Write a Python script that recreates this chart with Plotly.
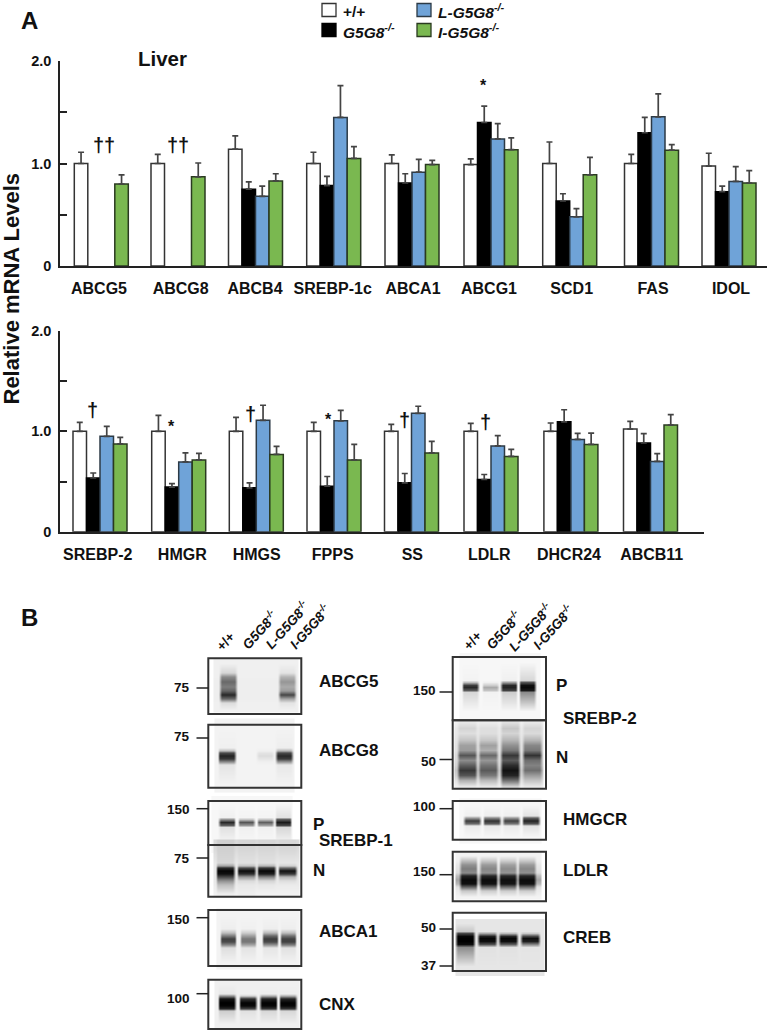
import plotly.graph_objects as go

W, H = 768, 1032
FONT = "Liberation Sans"

# ---------- Panel A data ----------
GENES_TOP = ["ABCG5", "ABCG8", "ABCB4", "SREBP-1c", "ABCA1", "ABCG1", "SCD1", "FAS", "IDOL"]
WT_TOP = [1.0, 1.0, 1.14, 1.0, 1.0, 0.99, 1.0, 1.0, 0.975]
KO_TOP = [None, None, 0.75, 0.785, 0.81, 1.40, 0.635, 1.30, 0.725]
LKO_TOP = [None, None, 0.68, 1.45, 0.915, 1.24, 0.48, 1.455, 0.825]
IKO_TOP = [0.80, 0.87, 0.83, 1.05, 0.99, 1.135, 0.89, 1.13, 0.81]
WT_TOP_ERR = [0.11, 0.09, 0.13, 0.11, 0.085, 0.055, 0.21, 0.09, 0.125]
KO_TOP_ERR = [None, None, 0.07, 0.09, 0.09, 0.16, 0.07, 0.15, 0.055]
LKO_TOP_ERR = [None, None, 0.10, 0.31, 0.125, 0.15, 0.08, 0.225, 0.145]
IKO_TOP_ERR = [0.09, 0.135, 0.07, 0.115, 0.04, 0.115, 0.17, 0.055, 0.12]

GENES_BOT = ["SREBP-2", "HMGR", "HMGS", "FPPS", "SS", "LDLR", "DHCR24", "ABCB11"]
WT_BOT = [1.0, 1.0, 1.0, 1.0, 1.0, 1.0, 1.0, 1.023]
KO_BOT = [0.535, 0.445, 0.437, 0.454, 0.487, 0.52, 1.095, 0.884]
LKO_BOT = [0.95, 0.695, 1.11, 1.105, 1.18, 0.855, 0.92, 0.70]
IKO_BOT = [0.875, 0.715, 0.77, 0.715, 0.785, 0.75, 0.87, 1.063]
WT_BOT_ERR = [0.09, 0.16, 0.14, 0.09, 0.07, 0.08, 0.083, 0.077]
KO_BOT_ERR = [0.05, 0.035, 0.05, 0.096, 0.093, 0.05, 0.12, 0.093]
LKO_BOT_ERR = [0.10, 0.09, 0.15, 0.105, 0.07, 0.102, 0.06, 0.078]
IKO_BOT_ERR = [0.065, 0.065, 0.08, 0.155, 0.115, 0.07, 0.113, 0.103]

SERIES_NAMES = ["+/+", "G5G8<sup>-/-</sup>", "L-G5G8<sup>-/-</sup>", "I-G5G8<sup>-/-</sup>"]
SERIES_FILL = ["#ffffff", "#000000", "#6fa3d8", "#7ab850"]
SERIES_EDGE = ["#333333", "#000000", "#2c3a46", "#2a3a20"]

# horizontal layout of the bar groups, in page pixels
GROUP_X_TOP = [101.3, 178, 255.5, 333.7, 412, 491, 569.7, 651.5, 729]
LABEL_X_TOP = [99, 180.7, 255, 332.7, 413, 489, 571.7, 653, 731]
GROUP_X_BOT = [100, 178.7, 256.3, 334, 411.5, 491, 570.9, 650.5]
LABEL_X_BOT = [97.7, 182.3, 256.7, 332.7, 412.3, 489.3, 569, 651.7]
BAR_W = 13.5

fig = go.Figure()


def add_bars(xaxis, yaxis, centres, vals, errs):
    for i, (v, e) in enumerate(zip(vals, errs)):
        fig.add_trace(go.Bar(
            x=centres, y=v, width=BAR_W, offset=-2 * BAR_W + i * BAR_W,
            name=SERIES_NAMES[i], showlegend=False,
            marker=dict(color=SERIES_FILL[i], line=dict(color=SERIES_EDGE[i], width=1.5)),
            error_y=dict(type="data", symmetric=False, array=e, arrayminus=[0] * len(e),
                         color="#444444", thickness=1.7, width=3),
            xaxis=xaxis, yaxis=yaxis))


add_bars("x", "y", GROUP_X_TOP, [WT_TOP, KO_TOP, LKO_TOP, IKO_TOP],
         [WT_TOP_ERR, KO_TOP_ERR, LKO_TOP_ERR, IKO_TOP_ERR])
add_bars("x2", "y2", GROUP_X_BOT, [WT_BOT, KO_BOT, LKO_BOT, IKO_BOT],
         [WT_BOT_ERR, KO_BOT_ERR, LKO_BOT_ERR, IKO_BOT_ERR])

# ---------- Panel B data: grey level per row; columns are gel background, then lanes 1-4 ----------
ABCG5_Y = [663, 672, 676, 681, 686, 690, 694, 698, 702, 709]
ABCG5_GREY = [[240, 240, 240, 240, 240], [240, 215, 240, 240, 228], [240, 140, 240, 240, 180],
              [238, 105, 238, 238, 150], [238, 125, 238, 238, 170], [238, 100, 238, 238, 155],
              [238, 40, 238, 238, 70], [238, 105, 238, 238, 165], [240, 220, 240, 240, 228],
              [240, 240, 240, 240, 240]]
ABCG8_Y = [728, 747, 750, 752, 755, 758, 761, 764, 783]
ABCG8_GREY = [[243, 243, 243, 243, 243], [243, 240, 243, 243, 238], [243, 190, 243, 240, 180],
              [243, 75, 243, 228, 75], [243, 35, 243, 220, 40], [243, 55, 243, 230, 60],
              [243, 140, 243, 240, 150], [243, 228, 243, 243, 232], [243, 243, 243, 243, 243]]
SREBP1P_Y = [803, 817, 819, 822, 825, 827, 844]
SREBP1P_GREY = [[247, 247, 247, 247, 247], [247, 240, 244, 244, 225], [247, 150, 200, 200, 95],
                [247, 40, 85, 95, 25], [247, 95, 150, 160, 70], [247, 225, 240, 240, 215],
                [247, 247, 247, 247, 247]]
SREBP1N_Y = [847, 862, 865, 867, 870, 873, 876, 880, 884, 893]
SREBP1N_GREY = [[218, 208, 214, 214, 214], [232, 215, 225, 225, 230], [232, 165, 195, 185, 210],
                [232, 45, 80, 60, 110], [232, 5, 12, 8, 18], [232, 15, 45, 30, 55],
                [232, 70, 150, 130, 180], [232, 145, 218, 212, 222], [235, 190, 232, 232, 235],
                [242, 238, 238, 242, 242]]
ABCA1_Y = [915, 928, 932, 935, 938, 941, 944, 947, 962]
ABCA1_GREY = [[243, 243, 243, 243, 243], [243, 238, 240, 238, 238], [243, 190, 205, 185, 190],
              [243, 125, 160, 105, 115], [243, 65, 120, 60, 65], [243, 75, 120, 75, 65],
              [243, 135, 165, 145, 125], [243, 222, 228, 230, 225], [243, 243, 243, 243, 243]]
CNX_Y = [984, 993, 995, 998, 1002, 1005, 1008, 1010, 1023]
CNX_GREY = [[240, 240, 240, 240, 240], [240, 232, 240, 238, 238], [240, 150, 215, 180, 180],
            [240, 20, 50, 35, 35], [240, 0, 5, 3, 3], [240, 5, 10, 8, 8],
            [240, 40, 70, 55, 55], [240, 205, 225, 215, 215], [240, 240, 240, 240, 240]]
SREBP2P_Y = [662, 680, 682, 685, 687, 690, 692, 711]
SREBP2P_GREY = [[247, 247, 247, 247, 247], [247, 243, 247, 240, 215], [247, 190, 240, 160, 85],
                [247, 60, 205, 40, 15], [247, 40, 170, 35, 10], [247, 90, 195, 65, 25],
                [247, 215, 242, 205, 140], [247, 247, 247, 247, 247]]
SREBP2N_Y = [722, 728, 733, 740, 745, 750, 755, 760, 765, 770, 775, 780, 786]
SREBP2N_GREY = [[240, 232, 236, 225, 232], [232, 212, 222, 198, 212], [232, 222, 222, 212, 218],
                [228, 195, 198, 180, 180], [225, 160, 160, 145, 135], [225, 155, 175, 120, 120],
                [218, 85, 105, 55, 50], [218, 140, 150, 90, 110], [212, 95, 115, 45, 130],
                [198, 55, 90, 18, 110], [208, 85, 120, 35, 155], [225, 175, 185, 110, 195],
                [240, 232, 232, 210, 232]]
HMGCR_Y = [804, 815, 817, 820, 823, 825, 837]
HMGCR_GREY = [[247, 247, 247, 247, 247], [247, 240, 238, 240, 228], [247, 160, 140, 155, 100],
              [247, 60, 50, 65, 35], [247, 110, 95, 120, 85], [247, 235, 232, 235, 225],
              [247, 247, 247, 247, 247]]
LDLR_Y = [855, 860, 864, 868, 872, 875, 879, 883, 886, 890, 896]
LDLR_GREY = [[243, 243, 243, 243, 243], [240, 190, 200, 205, 200], [232, 145, 155, 160, 155],
             [228, 125, 135, 140, 135], [222, 140, 145, 150, 145], [190, 35, 40, 40, 40],
             [165, 10, 12, 15, 12], [185, 15, 18, 20, 18], [225, 95, 100, 105, 105],
             [235, 200, 205, 205, 205], [243, 243, 243, 243, 243]]
CREB_Y = [923, 931, 933, 936, 938, 941, 944, 947, 966]
CREB_GREY = [[230, 230, 230, 230, 230], [230, 200, 230, 230, 230], [230, 70, 165, 185, 200],
             [230, 5, 30, 35, 70], [230, 0, 5, 5, 15], [230, 0, 15, 15, 30],
             [230, 12, 80, 90, 130], [230, 140, 225, 225, 228], [230, 230, 230, 230, 230]]

# (gel x0, gel x1, lane centres, lane half width, rows, grey)
BLOTS = [
    (214, 298, [228, 248, 267, 287], 9.5, ABCG5_Y, ABCG5_GREY),
    (215, 294, [226.7, 246, 265, 284], 9.5, ABCG8_Y, ABCG8_GREY),
    (212, 292, [226.7, 246, 265, 283.3], 9, SREBP1P_Y, SREBP1P_GREY),
    (214, 299, [225, 246, 266, 287], 10, SREBP1N_Y, SREBP1N_GREY),
    (217, 299, [228, 248, 270, 288], 8.9, ABCA1_Y, ABCA1_GREY),
    (215, 299, [226.7, 247.7, 268.3, 287.7], 9.6, CNX_Y, CNX_GREY),
    (460, 540, [470, 490, 508.7, 527.3], 9, SREBP2P_Y, SREBP2P_GREY),
    (455, 543, [466.7, 488.3, 510, 531.7], 10.5, SREBP2N_Y, SREBP2N_GREY),
    (460, 541, [472, 491.7, 511, 530.7], 9.5, HMGCR_Y, HMGCR_GREY),
    (456, 541, [468.3, 488.3, 507.7, 526.7], 9.5, LDLR_Y, LDLR_GREY),
    (456, 544, [465, 486.7, 508.3, 530], 10.5, CREB_Y, CREB_GREY),
]

for x0, x1, lanes, half, rows, grey in BLOTS:
    xs = [x0, x0 + 1]
    for c in lanes:
        xs += [c - half, c - half * 0.72, c + half * 0.72, c + half]
    xs += [x1 - 1, x1]
    z = []
    for r in grey:
        bg = r[0]
        row = [bg, bg]
        for v in r[1:]:
            row += [bg, v, v, bg]
        row += [bg, bg]
        z.append(row)
    fig.add_trace(go.Heatmap(x=xs, y=rows, z=z, zmin=0, zmax=255, zsmooth="best",
                             colorscale=[[0, "#000000"], [1, "#ffffff"]], showscale=False,
                             hoverinfo="skip", xaxis="x3", yaxis="y3"))

FRAMES = [
    (208.3, 301.3, 658.3, 714), (208.3, 301.3, 724.7, 787.7), (208.3, 301.3, 801, 845),
    (208.3, 301.3, 845, 896.7), (208.3, 301.3, 910, 966), (208.3, 301.3, 979.7, 1029),
    (452.7, 546, 657, 720.3), (452.7, 546, 720.3, 788.7), (452.7, 546, 801, 839.7),
    (452.7, 546, 851.7, 901.3), (452.7, 546, 912.7, 971),
]
MW_LEFT = [("75", 688, 687.7), ("75", 738, 736.7), ("150", 808.7, 809), ("75", 858, 858),
           ("150", 917.7, 919), ("100", 993.7, 998)]
MW_RIGHT = [("150", 692, 690.7), ("50", 759.5, 761), ("100", 808.7, 806), ("150", 874.7, 871.7),
            ("50", 929, 927.7), ("37", 966, 965.7)]
BLOT_NAMES = [("ABCG5", 318, 681), ("ABCG8", 318, 750), ("P", 312, 824), ("SREBP-1", 318, 840),
              ("N", 312, 870), ("ABCA1", 318, 931), ("CNX", 318, 1004),
              ("P", 555, 685), ("SREBP-2", 561.7, 718), ("N", 555, 757.7), ("HMGCR", 562, 819),
              ("LDLR", 562, 870), ("CREB", 562, 937)]
LANE_LABELS = ["+/+", "G5G8<sup>-/-</sup>", "L-G5G8<sup>-/-</sup>", "I-G5G8<sup>-/-</sup>"]
LANE_POS_LEFT = [(225.7, 641.7), (259, 630), (286.7, 625), (309, 626.7)]
LANE_POS_RIGHT = [(473, 640.7), (503.3, 630), (530, 626.7), (552.7, 626.7)]
DAGGERS = [("††", 104, 145), ("††", 178.3, 145), ("†", 92.7, 410), ("†", 250, 414),
           ("†", 404.3, 420), ("†", 485.7, 422.3)]
STARS = [(483.7, 85), (171.3, 426), (328, 419)]
LEGEND_POS = [(322, 10), (322, 30), (417, 10), (417, 30)]

ann = []
shapes = []


def text(t, x, y, size, anchor="left", angle=0, italic=False, bold=True, yanchor="middle", color="#111111"):
    ann.append(dict(text=t, x=x / W, y=1 - y / H, xref="paper", yref="paper", xanchor=anchor,
                    yanchor=yanchor, showarrow=False, textangle=angle, borderpad=0,
                    font=dict(family=FONT, size=size, color=color,
                              weight="bold" if bold else "normal",
                              style="italic" if italic else "normal")))


def rect(x0, x1, y0, y1, fill, line, width):
    shapes.append(dict(type="rect", xref="paper", yref="paper", x0=x0 / W, x1=x1 / W,
                       y0=1 - y0 / H, y1=1 - y1 / H, fillcolor=fill,
                       line=dict(color=line, width=width)))


def hline(x0, x1, y, width=1.5):
    shapes.append(dict(type="line", xref="paper", yref="paper", x0=x0 / W, x1=x1 / W,
                       y0=1 - y / H, y1=1 - y / H, line=dict(color="#222222", width=width)))


text("A", 20, 20, 24)
text("B", 20, 617, 24)
text("Liver", 137, 59, 20.5)
text("Relative mRNA Levels", 10.5, 289, 22, anchor="center", angle=-90)
for t, x, y in DAGGERS:
    text(t, x, y, 20, anchor="center")
for x, y in STARS:
    text("*", x, y, 16, anchor="center")
for i, (x, y) in enumerate(LEGEND_POS):
    rect(x, x + 14, y - 6.5, y + 6.5, SERIES_FILL[i], SERIES_EDGE[i], 1.3)
    text(SERIES_NAMES[i], x + 20, y + 1, 15.5, italic=i > 0)
for x0, x1, y0, y1 in FRAMES:
    rect(x0, x1, y0, y1, "rgba(0,0,0,0)", "#333333", 2)
for label, tick_y, y in MW_LEFT:
    hline(196.5, 208.3, tick_y)
    text(label, 191, y, 13.5, anchor="right")
for label, tick_y, y in MW_RIGHT:
    hline(439.5, 452.7, tick_y)
    text(label, 436.7, y, 13.5, anchor="right")
for t, x, y in BLOT_NAMES:
    text(t, x, y, 17)
for pos in (LANE_POS_LEFT, LANE_POS_RIGHT):
    for t, (x, y) in zip(LANE_LABELS, pos):
        text(t, x, y, 13.5, anchor="center", angle=-48, italic=t != "+/+")


def y_axis(dom_top, dom_bot, anchor):
    return dict(domain=[1 - dom_bot / H, 1 - dom_top / H], range=[0, 2], anchor=anchor, automargin=False,
                tickvals=[0, 1, 2], ticktext=["0", "1.0", "2.0"],
                ticks="inside", ticklen=7, tickwidth=1.5, tickcolor="#222222",
                minor=dict(tickvals=[0.5, 1.5], ticks="inside", ticklen=7, tickwidth=1.5,
                           tickcolor="#222222", showgrid=False),
                showline=True, linecolor="#222222", linewidth=1.5, showgrid=False, zeroline=False,
                ticklabelstandoff=4,
                tickfont=dict(family=FONT, size=14.5, color="#111111", weight="bold"))


def x_axis(x_end, labels_at, labels, anchor):
    return dict(domain=[60 / W, x_end / W], range=[60, x_end], anchor=anchor, automargin=False,
                tickvals=labels_at, ticktext=labels, ticks="", showline=True,
                linecolor="#222222", linewidth=1.5, showgrid=False, zeroline=False,
                ticklabelstandoff=7,
                tickfont=dict(family=FONT, size=16, color="#111111", weight="bold"))


fig.update_layout(
    width=W, height=H, autosize=False, margin=dict(l=0, r=0, t=0, b=0),
    paper_bgcolor="white", plot_bgcolor="rgba(0,0,0,0)", barmode="overlay", showlegend=False,
    xaxis=x_axis(767, LABEL_X_TOP, GENES_TOP, "y"),
    yaxis=y_axis(61, 266, "x"),
    xaxis2=x_axis(704, LABEL_X_BOT, GENES_BOT, "y2"),
    yaxis2=y_axis(331, 531.7, "x2"),
    xaxis3=dict(domain=[0, 1], range=[0, W], visible=False, anchor="y3", automargin=False),
    yaxis3=dict(domain=[0, 1 - 600 / H], range=[H, 600], visible=False, anchor="x3", automargin=False),
    annotations=ann, shapes=shapes,
)

fig.write_html("out.html", config={"displayModeBar": False},
               post_script="document.body.style.margin='0';")
